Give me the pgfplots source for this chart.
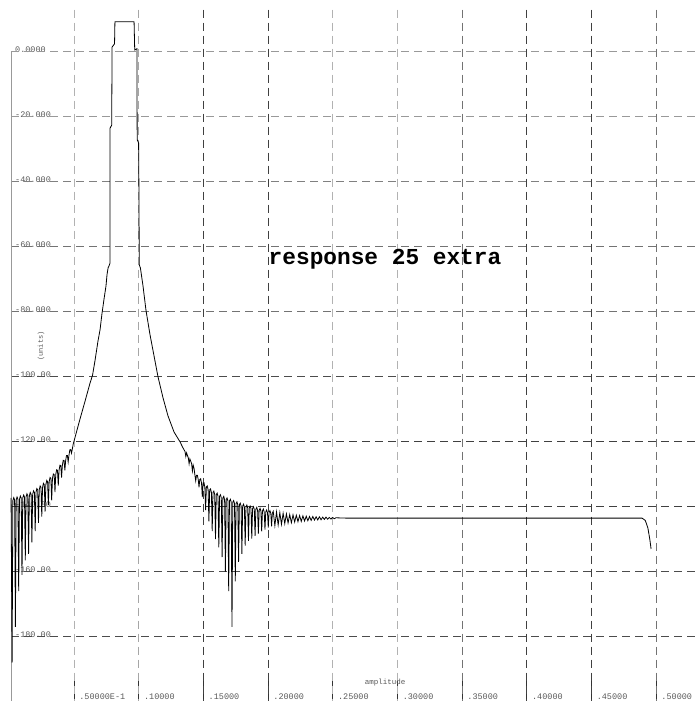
\documentclass[border=0pt]{standalone}
\usepackage{pgfplots}
\pgfplotsset{compat=1.18}
\usepackage{fontspec}
\newfontfamily\mono{Liberation Mono}
\pgfplotstableread{
x y
0.0012 -137.3
0.0020 -188
0.0026 -138.1
0.00328 -137.2
0.00395 -137.9
0.00455 -177
0.00515 -137.9
0.00583 -137.0
0.0065 -137.7
0.0071 -166
0.0077 -137.7
0.00838 -136.7
0.00905 -137.3
0.00965 -161
0.01025 -137.3
0.01093 -136.4
0.0116 -137.0
0.0122 -156.5
0.0128 -137.0
0.01348 -136.0
0.01415 -136.6
0.01475 -154.5
0.01535 -136.6
0.01603 -135.6
0.0167 -136.2
0.0173 -151
0.0179 -136.2
0.01858 -135.1
0.01925 -135.6
0.01985 -147.5
0.02045 -135.6
0.02113 -134.4
0.0218 -134.8
0.0224 -145
0.0230 -134.8
0.02368 -133.6
0.02435 -134.0
0.02495 -143
0.02555 -134.0
0.02623 -132.8
0.0269 -133.2
0.0275 -141.5
0.0281 -133.2
0.02878 -131.9
0.02945 -132.3
0.03005 -139.5
0.03065 -132.3
0.03133 -131.0
0.0320 -131.3
0.0326 -138
0.0332 -131.3
0.03388 -129.9
0.03455 -130.1
0.03515 -135.5
0.03575 -130.1
0.03643 -128.6
0.0371 -128.8
0.0377 -133.5
0.0383 -128.8
0.03898 -127.2
0.03965 -127.3
0.04025 -131
0.04085 -127.3
0.04153 -125.7
0.0422 -125.8
0.0428 -128.8
0.0434 -125.8
0.04408 -124.2
0.04475 -124.2
0.04535 -126.2
0.04595 -124.2
0.04663 -122.5
0.0473 -122.4
0.0479 -123.5
0.0485 -122.4
0.0492 -120.8
0.0500 -119.6
0.0545 -113
0.0584 -107.5
0.0622 -102
0.0642 -99.5
0.0661 -95
0.0684 -89
0.0700 -85.5
0.0715 -80.5
0.0731 -76
0.0746 -72
0.0754 -68.5
0.0762 -66.5
0.0773 -65.5
0.0777 -65
0.0777 -23.5
0.0790 -22.5
0.0793 1.5
0.0812 2.5
0.0815 9.3
0.0963 9.3
0.0968 0.6
0.0985 1.0
0.0987 -27
0.0998 -28
0.1001 -45
0.1003 -65.5
0.1012 -66.5
0.1032 -72
0.1055 -79.5
0.1086 -87
0.1117 -93.5
0.1148 -100
0.1187 -106.5
0.1225 -112
0.1272 -117
0.1318 -120
0.1340 -121.8
0.1357 -123.0
0.1363 -124.5
0.1369 -123.4
0.13758 -124.2
0.13825 -125.0
0.13885 -126.8
0.13945 -125.3
0.14013 -126.0
0.1408 -126.8
0.1414 -129
0.1420 -127.2
0.14268 -128.2
0.14335 -130.3
0.14395 -132
0.14455 -130.3
0.14523 -130.3
0.1459 -131.6
0.1465 -134
0.1471 -131.6
0.14778 -131.4
0.14845 -132.7
0.14905 -137
0.14965 -132.7
0.15033 -132.6
0.151 -133.9
0.1516 -141
0.1522 -133.9
0.15288 -133.6
0.15355 -134.8
0.15415 -144.5
0.15475 -134.8
0.15543 -134.5
0.1561 -135.6
0.1567 -147.5
0.1573 -135.6
0.15798 -135.2
0.15865 -136.3
0.15925 -150
0.15985 -136.3
0.16053 -135.8
0.1612 -136.8
0.1618 -152.5
0.1624 -136.8
0.16308 -136.3
0.16375 -137.3
0.16435 -155.5
0.16495 -137.3
0.16563 -136.8
0.1663 -137.8
0.1669 -160
0.1675 -137.8
0.16818 -137.3
0.16885 -138.2
0.16945 -166
0.17005 -138.2
0.17073 -137.7
0.1714 -138.6
0.1720 -177
0.1726 -138.6
0.17328 -138.1
0.17395 -139.0
0.17455 -163
0.17515 -139.0
0.17583 -138.5
0.1765 -139.4
0.1771 -157
0.1777 -139.4
0.17838 -138.9
0.17905 -139.8
0.17965 -154.5
0.18025 -139.8
0.18093 -139.2
0.1816 -140.1
0.1822 -152
0.1828 -140.1
0.18348 -139.5
0.18415 -140.4
0.18475 -150.5
0.18535 -140.4
0.18603 -139.8
0.1867 -140.6
0.1873 -149.8
0.1879 -140.6
0.18858 -140.0
0.18925 -140.8
0.18985 -149
0.19045 -140.8
0.19113 -140.2
0.1918 -141.1
0.1924 -148.3
0.1930 -141.1
0.19368 -140.5
0.19435 -141.3
0.19495 -147.6
0.19555 -141.3
0.19623 -140.7
0.1969 -141.6
0.1975 -147
0.1981 -141.6
0.19878 -141.0
0.19945 -141.8
0.20005 -146.4
0.20065 -141.8
0.20133 -141.2
0.2020 -142.0
0.2026 -146
0.2032 -142.0
0.20388 -141.4
0.20515 -145.8
0.20643 -141.6
0.2077 -145.6
0.20898 -141.8
0.21025 -145.4
0.21153 -142.0
0.2128 -145.2
0.21408 -142.2
0.21535 -145
0.21663 -142.4
0.2179 -144.9
0.21918 -142.5
0.22045 -144.7
0.22173 -142.6
0.223 -144.6
0.22428 -142.7
0.22555 -144.5
0.22683 -142.8
0.2281 -144.4
0.22938 -142.9
0.23065 -144.3
0.23193 -143.0
0.2332 -144.2
0.23448 -143.0
0.23575 -144.1
0.23703 -143.1
0.2383 -144.05
0.23958 -143.1
0.24085 -144
0.24213 -143.2
0.2434 -143.9
0.24468 -143.2
0.24595 -143.85
0.24723 -143.3
0.2485 -143.8
0.24978 -143.3
0.25105 -143.7
0.25233 -143.4
0.2600 -143.5
0.3000 -143.5
0.3500 -143.5
0.4000 -143.5
0.4500 -143.5
0.4890 -143.5
0.4915 -144.2
0.4935 -146.5
0.4950 -150
0.4960 -153
}\response
\begin{document}
\begin{tikzpicture}
\path[use as bounding box] (0,0) rectangle (697bp,701bp);
\begin{axis}[
  at={(0,0)}, anchor=south west,
  scale only axis, width=697bp, height=701bp,
  xmin=-0.00735, xmax=0.5315, ymin=-199.8, ymax=16.0,
  axis line style={draw=none},
  clip=false,
  xtick={0.05,0.1,0.15,0.2,0.25,0.3,0.35,0.4,0.45,0.5},
  xticklabels={.50000E-1,.10000,.15000,.20000,.25000,.30000,.35000,.40000,.45000,.50000},
  ytick={0,-20,-40,-60,-80,-100,-120,-140,-160,-180},
  yticklabels={0.0000,-20.000,-40.000,-60.000,-80.000,-100.00,-120.00,-140.00,-160.00,-180.00},
  tick align=inside,
  xtick pos=left,
  ytick pos=left,
  major tick length=20bp,
  xtick style={black!80, line width=0.9bp},
  ytick style={draw=none},
  xticklabel style={font=\mono\fontsize{8.5bp}{10bp}\selectfont, text=black!65,
    anchor=south west, inner sep=0pt, xshift=5bp, yshift=1.5bp},
  yticklabel style={font=\mono\fontsize{8.5bp}{10bp}\selectfont, text=black!65,
    anchor=west, inner sep=0pt, xshift=15bp, yshift=2bp},
  title={response 25 extra},
  title style={at={(rel axis cs:0.5524,0.622)}, anchor=center,
    font=\mono\bfseries\fontsize{22.8bp}{26bp}\selectfont},
  xlabel={amplitude},
  xlabel style={at={(rel axis cs:0.5524,0.0257)}, anchor=center,
    font=\mono\fontsize{7.5bp}{9bp}\selectfont, text=black!65},
  ylabel={(units)},
  ylabel style={at={(rel axis cs:0.0588,0.5064)}, anchor=center,
    font=\mono\fontsize{7bp}{8bp}\selectfont, text=black!65},
]
% vertical grid lines
\draw[black!30, line width=1bp, dash pattern=on 8bp off 5bp] (axis cs:0.05,13) -- (axis cs:0.05,-199.8);
\draw[black!35, line width=1bp, dash pattern=on 8bp off 5bp] (axis cs:0.10,13) -- (axis cs:0.10,-199.8);
\draw[black!75, line width=1.1bp, dash pattern=on 8bp off 5bp] (axis cs:0.15,13) -- (axis cs:0.15,-199.8);
\draw[black!75, line width=1.1bp, dash pattern=on 8bp off 5bp] (axis cs:0.20,13) -- (axis cs:0.20,-199.8);
\draw[black!30, line width=1bp, dash pattern=on 8bp off 5bp] (axis cs:0.25,13) -- (axis cs:0.25,-199.8);
\draw[black!30, line width=1bp, dash pattern=on 8bp off 5bp] (axis cs:0.30,13) -- (axis cs:0.30,-199.8);
\draw[black!55, line width=1bp, dash pattern=on 8bp off 5bp] (axis cs:0.35,13) -- (axis cs:0.35,-199.8);
\draw[black!75, line width=1.1bp, dash pattern=on 8bp off 5bp] (axis cs:0.40,13) -- (axis cs:0.40,-199.8);
\draw[black!75, line width=1.1bp, dash pattern=on 8bp off 5bp] (axis cs:0.45,13) -- (axis cs:0.45,-199.8);
\draw[black!55, line width=1bp, dash pattern=on 8bp off 5bp] (axis cs:0.50,13) -- (axis cs:0.50,-199.8);
% horizontal grid lines
\draw[black!40, line width=1bp, dash pattern=on 8bp off 5bp] (axis cs:0.0012,0) -- (axis cs:0.5315,0);
\draw[black!40, line width=1bp, dash pattern=on 8bp off 5bp] (axis cs:0.0012,-20) -- (axis cs:0.5315,-20);
\draw[black!50, line width=1bp, dash pattern=on 8bp off 5bp] (axis cs:0.0012,-40) -- (axis cs:0.5315,-40);
\draw[black!55, line width=1bp, dash pattern=on 8bp off 5bp] (axis cs:0.0012,-60) -- (axis cs:0.5315,-60);
\draw[black!55, line width=1bp, dash pattern=on 8bp off 5bp] (axis cs:0.0012,-80) -- (axis cs:0.5315,-80);
\draw[black!70, line width=1.1bp, dash pattern=on 8bp off 5bp] (axis cs:0.0012,-100) -- (axis cs:0.5315,-100);
\draw[black!75, line width=1.1bp, dash pattern=on 8bp off 5bp] (axis cs:0.0012,-120) -- (axis cs:0.5315,-120);
\draw[black!75, line width=1.1bp, dash pattern=on 8bp off 5bp] (axis cs:0.0012,-140) -- (axis cs:0.5315,-140);
\draw[black!70, line width=1.1bp, dash pattern=on 8bp off 5bp] (axis cs:0.0012,-160) -- (axis cs:0.5315,-160);
\draw[black!70, line width=1.1bp, dash pattern=on 8bp off 5bp] (axis cs:0.0012,-180) -- (axis cs:0.5315,-180);
% left axis line
\draw[black!40, line width=1bp] (axis cs:0.0012,0) -- (axis cs:0.0012,-199.8);
\addplot[black, line width=0.8bp] table[x=x, y=y] {\response};
\end{axis}
\end{tikzpicture}
\end{document}
